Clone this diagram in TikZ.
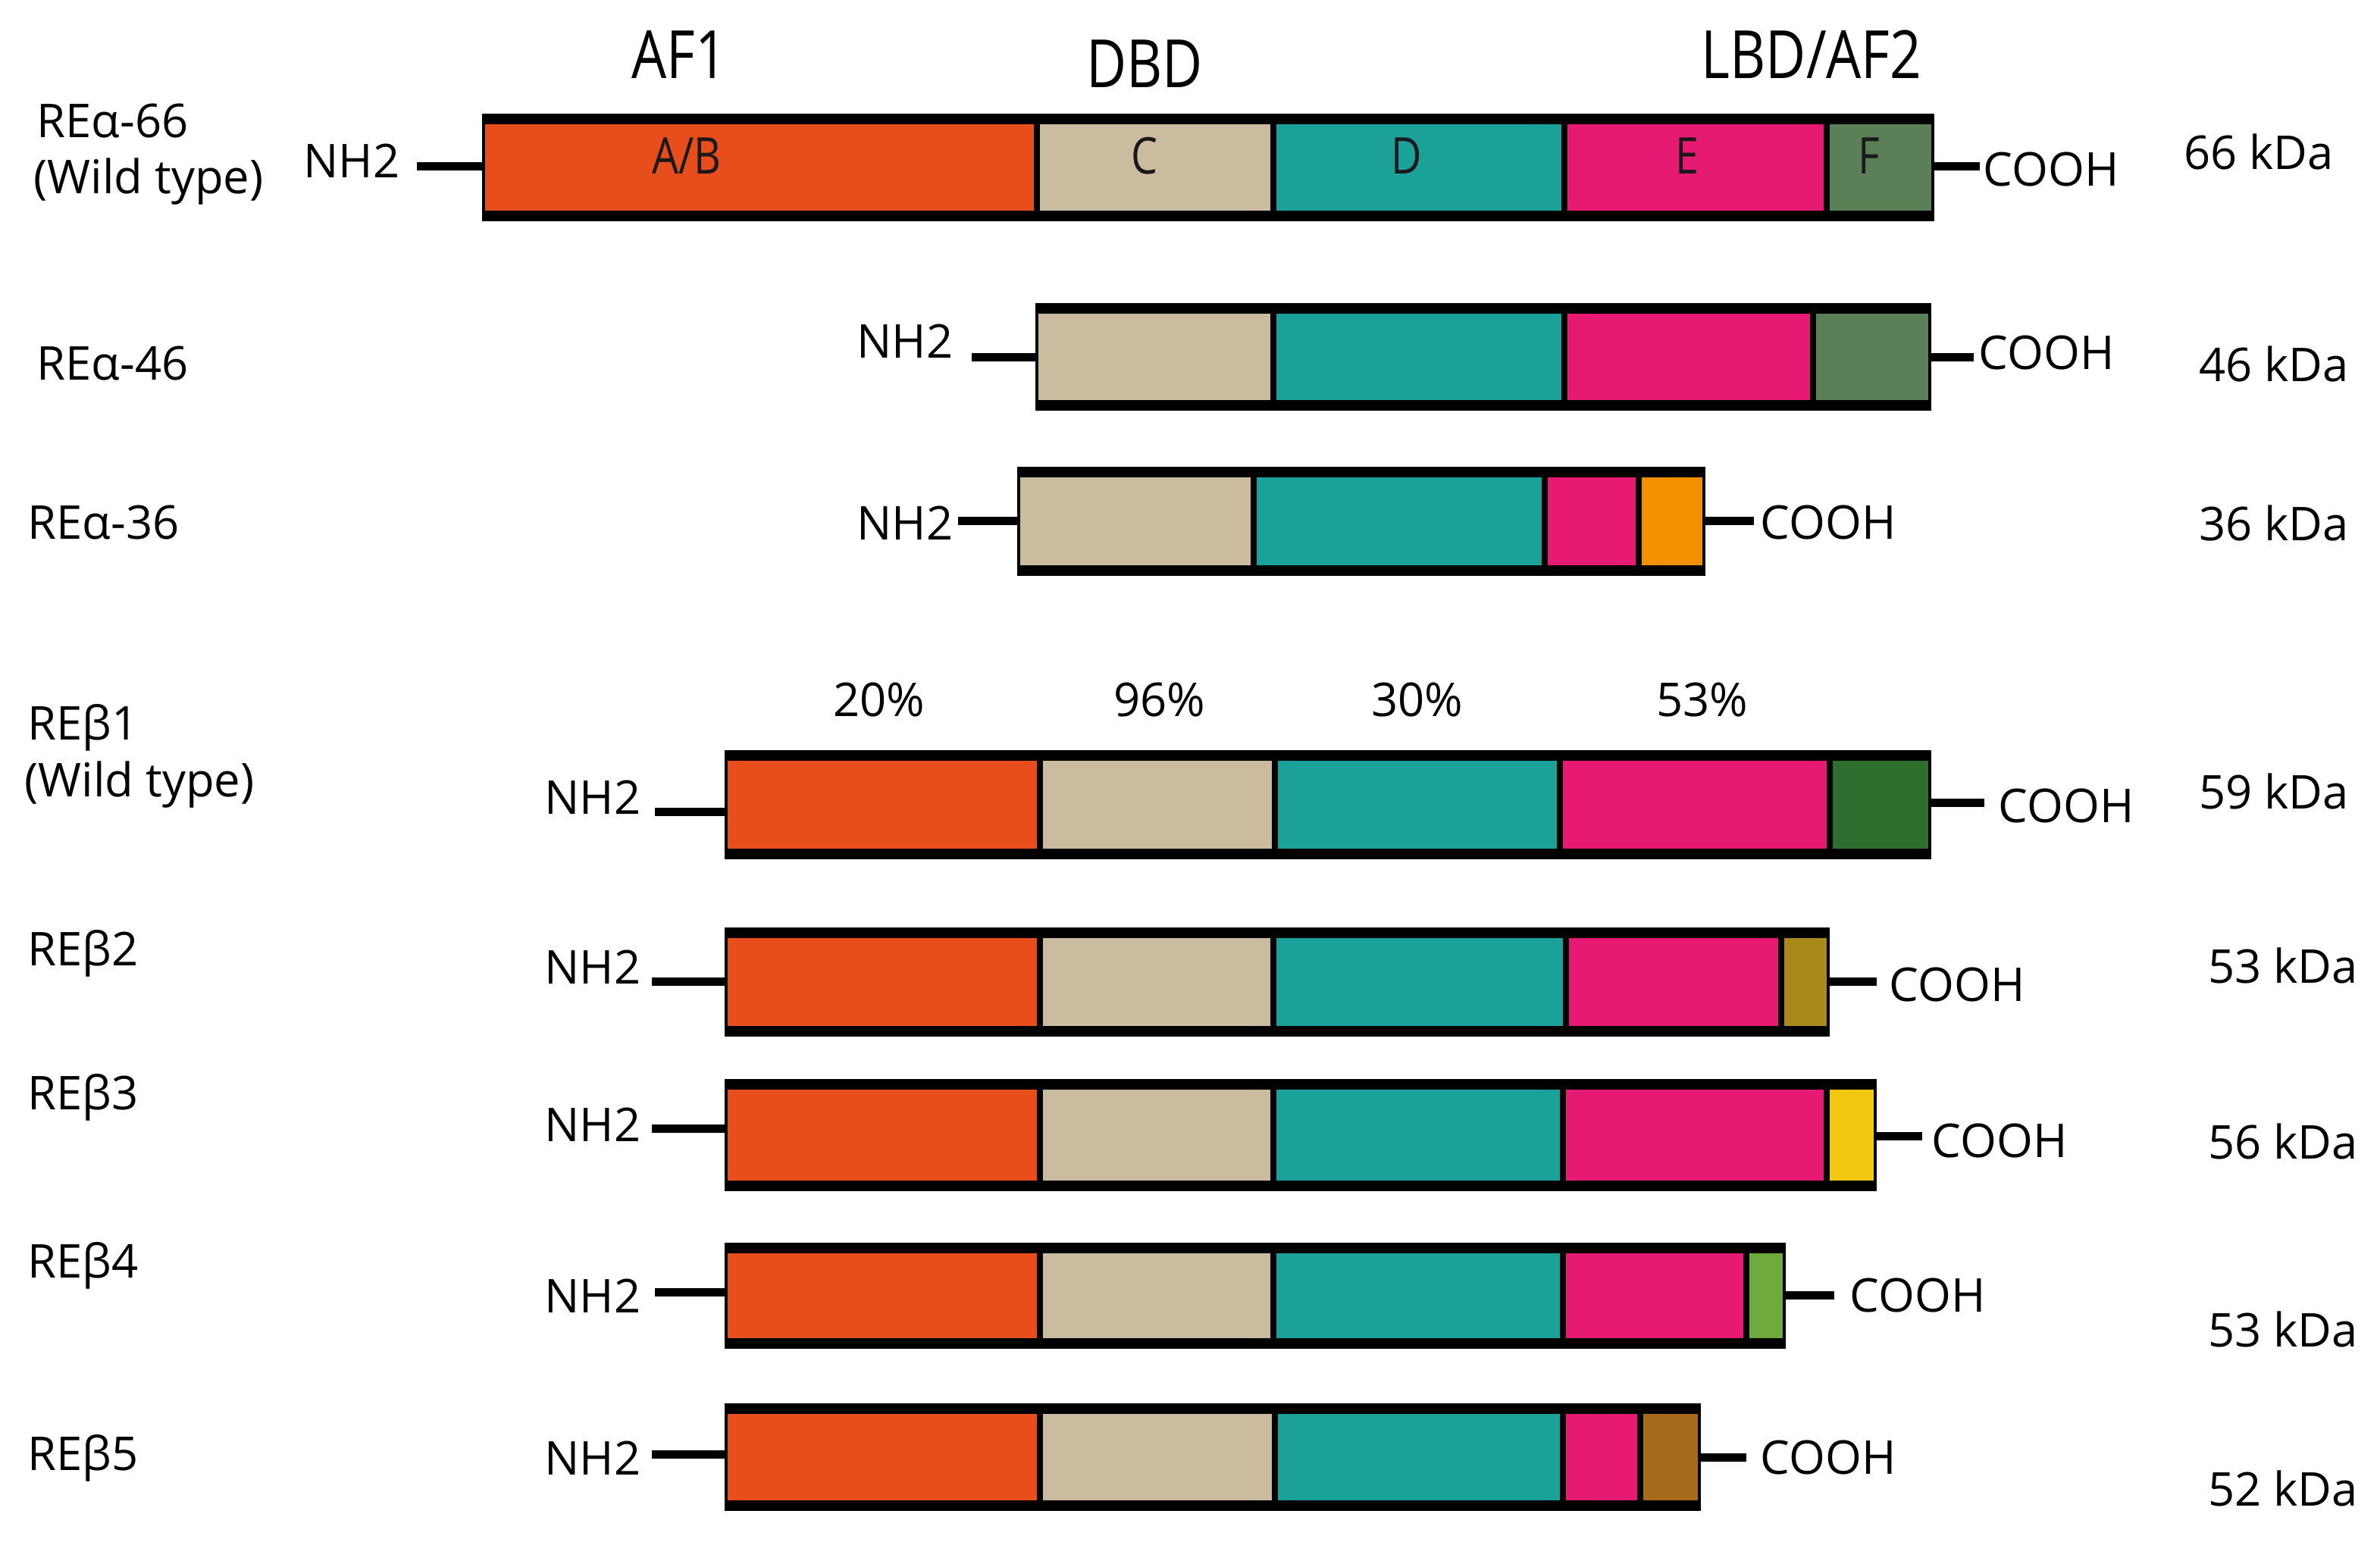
\documentclass[tikz,border=0pt]{standalone}
\usepackage{fontspec}
\setmainfont{Open Sans}
\newfontfamily\hdfont{Open Sans}[FakeStretch=0.83]
\definecolor{cOr}{HTML}{E84E1B}
\definecolor{cBe}{HTML}{CBBCA0}
\definecolor{cTe}{HTML}{1AA19A}
\definecolor{cPk}{HTML}{E71A73}
\definecolor{cFg}{HTML}{5B7F57}
\definecolor{cDg}{HTML}{2E6F2E}
\definecolor{cAo}{HTML}{F39200}
\definecolor{cOl}{HTML}{A88A1A}
\definecolor{cYe}{HTML}{F2C811}
\definecolor{cLg}{HTML}{6EAA3C}
\definecolor{cBr}{HTML}{A66A1A}
\tikzset{
  lbl/.style={inner sep=0pt, font=\fontsize{17.5}{20}\selectfont},
  seglbl/.style={inner sep=0pt, font=\hdfont\fontsize{19}{22}\selectfont, text=black!90},
  hdr/.style={inner sep=0pt, font=\hdfont\fontsize{25}{28}\selectfont},
  conn/.style={line width=0.11cm},
}
% #1 top y, #2 bottom y, #3 list a/b/colour
\newcommand\segs[3]{%
  \foreach \a/\b/\c in {#3} {\fill[\c] ({\a+2},{#1+7}) rectangle ({\b-2},{#2-7});}
}
\begin{document}
\begin{tikzpicture}[x=0.02cm,y=-0.02cm]
\useasboundingbox (0,0) rectangle (1570,1017.5);
% headers
\node[hdr] (hAF) at (448,36) {AF1};
\node[hdr] (hDBD) at (755,42) {DBD};
\node[hdr] (hLBD) at (1195,36) {LBD/AF2};
% ---------- Row 1: REa-66
\fill[black] (318,75) rectangle (1276,146);
\segs{75}{146}{318/684/cOr, 684/840/cBe, 840/1032/cTe, 1032/1205/cPk, 1205/1276/cFg}
\node[seglbl] (sAB) at (453,103) {A/B};
\node[seglbl] (sC) at (755,103) {C};
\node[seglbl] (sD) at (928,103) {D};
\node[seglbl] (sE) at (1113,103) {E};
\node[seglbl] (sF) at (1233,103) {F};
\coordinate (n1a) at (275,110); \coordinate (n1b) at (318,110);
\coordinate (c1a) at (1276,110); \coordinate (c1b) at (1306,110);
\draw[conn] (n1a) -- (n1b); \draw[conn] (c1a) -- (c1b);
\node[lbl] (nh1) at (232,106) {NH2};
\node[lbl,anchor=west] (co1) at (1308,112) {COOH};
\node[lbl] (kd1) at (1490,100) {66 kDa};
\node[lbl,anchor=west] (l1a) at (24,80) {REα-66};
\node[lbl,anchor=west] (l1b) at (22,120) {(Wild type)};
% ---------- Row 2: REa-46
\fill[black] (683,200) rectangle (1274,271);
\segs{200}{271}{683/840/cBe, 840/1032/cTe, 1032/1196/cPk, 1196/1274/cFg}
\coordinate (n2a) at (641,236); \coordinate (n2b) at (683,236);
\coordinate (c2a) at (1274,236); \coordinate (c2b) at (1302,236);
\draw[conn] (n2a) -- (n2b); \draw[conn] (c2a) -- (c2b);
\node[lbl] (nh2) at (597,225) {NH2};
\node[lbl,anchor=west] (co2) at (1305,233) {COOH};
\node[lbl] (kd2) at (1500,240) {46 kDa};
\node[lbl,anchor=west] (l2) at (24,240) {REα-46};
% ---------- Row 3: REa-36
\fill[black] (671,308) rectangle (1125,380);
\segs{308}{380}{671/827/cBe, 827/1019/cTe, 1019/1081/cPk, 1081/1125/cAo}
\coordinate (n3a) at (632,344); \coordinate (n3b) at (671,344);
\coordinate (c3a) at (1125,344); \coordinate (c3b) at (1157,344);
\draw[conn] (n3a) -- (n3b); \draw[conn] (c3a) -- (c3b);
\node[lbl] (nh3) at (597,345) {NH2};
\node[lbl,anchor=west] (co3) at (1161,345) {COOH};
\node[lbl] (kd3) at (1500,345) {36 kDa};
\node[lbl,anchor=west] (l3) at (18,345) {REα-36};
% percentages
\node[lbl] (p1) at (580,462) {20\%};
\node[lbl] (p2) at (765,462) {96\%};
\node[lbl] (p3) at (935,462) {30\%};
\node[lbl] (p4) at (1123,462) {53\%};
% ---------- Row 4: REb1
\fill[black] (478,495) rectangle (1274,567);
\segs{495}{567}{478/686/cOr, 686/841/cBe, 841/1029/cTe, 1029/1207/cPk, 1207/1274/cDg}
\coordinate (n4a) at (432,536); \coordinate (n4b) at (478,536);
\coordinate (c4a) at (1274,530); \coordinate (c4b) at (1309,530);
\draw[conn] (n4a) -- (n4b); \draw[conn] (c4a) -- (c4b);
\node[lbl] (nh4) at (391,526) {NH2};
\node[lbl,anchor=west] (co4) at (1318,532) {COOH};
\node[lbl] (kd4) at (1500,522) {59 kDa};
\node[lbl,anchor=west] (l4a) at (18,480) {REβ1};
\node[lbl,anchor=west] (l4b) at (16,518) {(Wild type)};
% ---------- Row 5: REb2
\fill[black] (478,612) rectangle (1207,684);
\segs{612}{684}{478/686/cOr, 686/840/cBe, 840/1033/cTe, 1033/1175/cPk, 1175/1207/cOl}
\coordinate (n5a) at (430,648); \coordinate (n5b) at (478,648);
\coordinate (c5a) at (1207,648); \coordinate (c5b) at (1238,648);
\draw[conn] (n5a) -- (n5b); \draw[conn] (c5a) -- (c5b);
\node[lbl] (nh5) at (391,638) {NH2};
\node[lbl,anchor=west] (co5) at (1246,650) {COOH};
\node[lbl] (kd5) at (1506,637) {53 kDa};
\node[lbl,anchor=west] (l5) at (18,629) {REβ2};
% ---------- Row 6: REb3
\fill[black] (478,712) rectangle (1238,786);
\segs{712}{786}{478/686/cOr, 686/840/cBe, 840/1031/cTe, 1031/1205/cPk, 1205/1238/cYe}
\coordinate (n6a) at (430,745); \coordinate (n6b) at (478,745);
\coordinate (c6a) at (1238,750); \coordinate (c6b) at (1268,750);
\draw[conn] (n6a) -- (n6b); \draw[conn] (c6a) -- (c6b);
\node[lbl] (nh6) at (391,742) {NH2};
\node[lbl,anchor=west] (co6) at (1274,753) {COOH};
\node[lbl] (kd6) at (1506,753) {56 kDa};
\node[lbl,anchor=west] (l6) at (18,724) {REβ3};
% ---------- Row 7: REb4
\fill[black] (478,820) rectangle (1178,890);
\segs{820}{890}{478/686/cOr, 686/840/cBe, 840/1031/cTe, 1031/1152/cPk, 1152/1178/cLg}
\coordinate (n7a) at (432,853); \coordinate (n7b) at (478,853);
\coordinate (c7a) at (1178,855); \coordinate (c7b) at (1210,855);
\draw[conn] (n7a) -- (n7b); \draw[conn] (c7a) -- (c7b);
\node[lbl] (nh7) at (391,855) {NH2};
\node[lbl,anchor=west] (co7) at (1220,855) {COOH};
\node[lbl] (kd7) at (1506,877) {53 kDa};
\node[lbl,anchor=west] (l7) at (18,835) {REβ4};
% ---------- Row 8: REb5
\fill[black] (478,926) rectangle (1122,997);
\segs{926}{997}{478/686/cOr, 686/841/cBe, 841/1031/cTe, 1031/1082/cPk, 1082/1122/cBr}
\coordinate (n8a) at (430,960); \coordinate (n8b) at (478,960);
\coordinate (c8a) at (1122,962); \coordinate (c8b) at (1152,962);
\draw[conn] (n8a) -- (n8b); \draw[conn] (c8a) -- (c8b);
\node[lbl] (nh8) at (391,962) {NH2};
\node[lbl,anchor=west] (co8) at (1161,962) {COOH};
\node[lbl] (kd8) at (1506,982) {52 kDa};
\node[lbl,anchor=west] (l8) at (18,962) {REβ5};
\end{tikzpicture}
\end{document}
